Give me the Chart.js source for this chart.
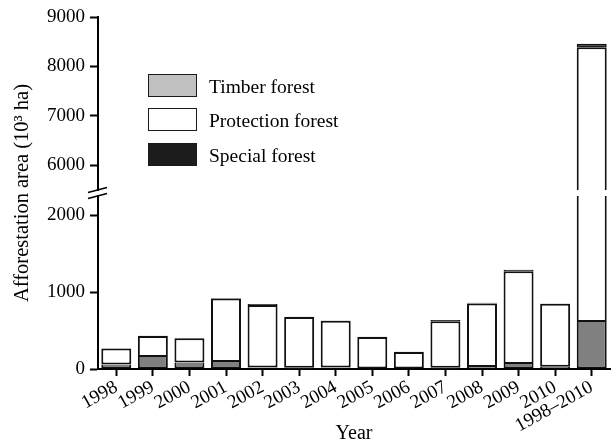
<!DOCTYPE html>
<html>
<head>
<meta charset="utf-8">
<script src="https://cdn.jsdelivr.net/npm/chart.js@4.4.0/dist/chart.umd.min.js"></script>
<style>
  html, body { margin: 0; padding: 0; background: #fff; }
  #wrap { position: relative; width: 612px; height: 443px; }
  canvas { display: block; }
  .legend { position: absolute; left: 148px; top: 74px; font-family: "Liberation Serif", serif; font-size: 19.5px; color: #000; }
  .item { position: relative; height: 24px; margin-bottom: 10.3px; }
  .sw { position: absolute; left: 0; top: 0; width: 47px; height: 21px; border: 1.5px solid #1a1a1a; }
  .lbl { position: absolute; left: 61px; top: 1px; line-height: 24px; white-space: nowrap; }
</style>
</head>
<body>
<div id="wrap">
  <canvas id="c" width="612" height="443"></canvas>
  <div class="legend" id="legend"></div>
</div>
<script>
// Afforestation area by forest type, 10^3 ha
const categories = ['1998', '1999', '2000', '2001', '2002', '2003', '2004',
                    '2005', '2006', '2007', '2008', '2009', '2010', '1998\u20132010'];
const timber     = [60, 155, 85, 90, 20, 15, 20, 5, 5, 15, 25, 65, 30, 610];
const protection = [205, 273, 315, 827, 812, 660, 607, 412, 217, 606, 828, 1205, 818, 7780];
const special    = [5, 5, 3, 5, 12, 5, 5, 3, 3, 15, 8, 20, 5, 70];

// Broken value axis: lower and upper segments
const lowTicks  = [0, 1000, 2000];
const highTicks = [6000, 7000, 8000, 9000];
const lowRange  = [0, 2250];
const highRange = [5500, 9000];

const series = [
  { label: 'Timber forest',     values: timber,     fill: '#808080', swatch: '#c0c0c0' },
  { label: 'Protection forest', values: protection, fill: '#ffffff', swatch: '#ffffff' },
  { label: 'Special forest',    values: special,    fill: '#1c1c1c', swatch: '#1c1c1c' }
];

const FONT = '"Liberation Serif", "Times New Roman", serif';

// stacked extent of series s in category i
function extent(s, i) {
  let base = 0;
  for (let k = 0; k < s; k++) base += series[k].values[i];
  return [base, base + series[s].values[i]];
}

// floating bar segments clipped to one axis segment
function segment(s, range) {
  return categories.map((_, i) => {
    const [base, top] = extent(s, i);
    const lo = Math.max(base, range[0]);
    const hi = Math.min(top, range[1]);
    return hi > lo ? [lo, hi] : null;
  });
}

function skipFor(s) {
  return ctx => {
    const v = ctx.raw;
    if (!v) return false;
    const [base, top] = extent(s, ctx.dataIndex);
    if (v[1] < top) return 'end';
    if (v[0] > base) return 'start';
    if (s === 0) return 'end';
    if (s === 2) return 'start';
    return false;
  };
}

const datasets = [];
series.forEach((sr, s) => {
  [['yLow', lowRange], ['yHigh', highRange]].forEach(([axis, range]) => {
    datasets.push({
      label: sr.label,
      data: segment(s, range),
      yAxisID: axis,
      backgroundColor: sr.fill,
      borderColor: '#111',
      borderWidth: 2,
      borderSkipped: skipFor(s),
      grouped: false,
      barPercentage: 0.82,
      categoryPercentage: 1
    });
  });
});

const breakMarks = {
  id: 'breakMarks',
  afterDraw(chart) {
    const hi = chart.scales.yHigh, lo = chart.scales.yLow;
    const x = chart.chartArea.left;
    const yMid = (hi.bottom + lo.top) / 2;
    const ctx = chart.ctx;
    ctx.save();
    ctx.strokeStyle = '#000';
    ctx.lineWidth = 1.8;
    [-3, 3].forEach(d => {
      ctx.beginPath();
      ctx.moveTo(x - 10, yMid + d + 2.5);
      ctx.lineTo(x + 9, yMid + d - 2.5);
      ctx.stroke();
    });
    ctx.restore();
  }
};

const tickFont = { family: FONT, size: 19 };
const yAxisCommon = {
  type: 'linear',
  position: 'left',
  stack: 'y',
  grid: { drawOnChartArea: false, tickLength: 8, tickWidth: 2, tickColor: '#000' },
  border: { color: '#000', width: 2 },
  ticks: { font: tickFont, color: '#000', padding: 5, callback: v => String(v) },
  afterFit: s => { s.width = 90; }
};

new Chart(document.getElementById('c'), {
  type: 'bar',
  data: { labels: categories, datasets },
  options: {
    responsive: false,
    animation: false,
    layout: { padding: { left: 8, top: 17, right: 2, bottom: 0 } },
    plugins: { legend: { display: false }, tooltip: { enabled: false } },
    scales: {
      x: {
        type: 'category',
        offset: true,
        grid: { offset: false, drawOnChartArea: false, tickLength: 7, tickWidth: 2, tickColor: '#000' },
        border: { color: '#000', width: 2 },
        ticks: { autoSkip: false, minRotation: 29, maxRotation: 29, font: tickFont, color: '#000', padding: 0 },
        title: { display: true, text: 'Year', font: { family: FONT, size: 20 }, color: '#000', padding: { top: 0, bottom: -3 } },
        afterFit: s => { s.height = 74; }
      },
      yHigh: Object.assign({}, yAxisCommon, {
        weight: 3, stackWeight: 173,
        min: highRange[0], max: highRange[1],
        afterBuildTicks: s => { s.ticks = highTicks.map(v => ({ value: v })); }
      }),
      yGap: {
        type: 'linear', position: 'left', stack: 'y', weight: 2, stackWeight: 6,
        grid: { display: false }, border: { display: false }, ticks: { display: false },
        title: { display: true, text: 'Afforestation area (10\u00B3 ha)', font: { family: FONT, size: 20.5 }, color: '#000', padding: { top: 2, bottom: 0 } },
        afterFit: s => { s.width = 90; }
      },
      yLow: Object.assign({}, yAxisCommon, {
        weight: 1, stackWeight: 173,
        min: lowRange[0], max: lowRange[1],
        afterBuildTicks: s => { s.ticks = lowTicks.map(v => ({ value: v })); }
      })
    }
  },
  plugins: [breakMarks]
});

// legend
const legend = document.getElementById('legend');
series.forEach(sr => {
  const item = document.createElement('div');
  item.className = 'item';
  const sw = document.createElement('div');
  sw.className = 'sw';
  sw.style.background = sr.swatch;
  const lbl = document.createElement('div');
  lbl.className = 'lbl';
  lbl.textContent = sr.label;
  item.appendChild(sw);
  item.appendChild(lbl);
  legend.appendChild(item);
});
</script>
</body>
</html>
